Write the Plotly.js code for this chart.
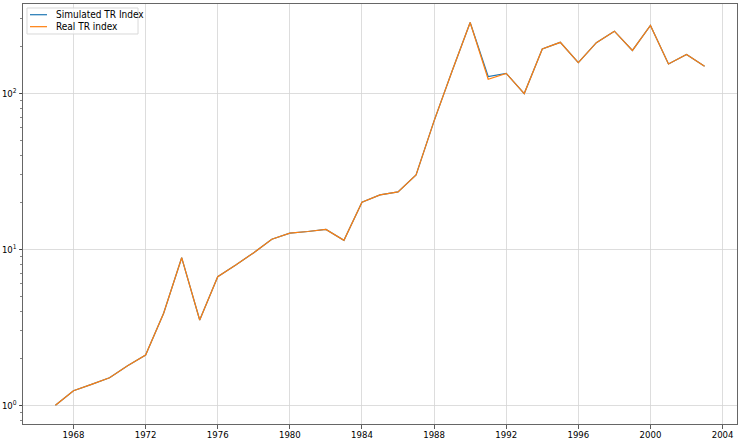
<!DOCTYPE html>
<html>
<head>
<meta charset="utf-8">
<script src="https://cdn.plot.ly/plotly-3.0.1.min.js"></script>
<style>
html,body{margin:0;padding:0;background:#fff;}
#chart{width:740px;height:440px;}
</style>
</head>
<body>
<div id="chart"></div>
<script>
const years = [1967,1968,1969,1970,1971,1972,1973,1974,1975,1976,1977,1978,1979,1980,1981,1982,1983,1984,1985,1986,1987,1988,1989,1990,1991,1992,1993,1994,1995,1996,1997,1998,1999,2000,2001,2002,2003];
const simulatedIdx = [1.0,1.24,1.36,1.50,1.79,2.10,3.89,8.83,3.52,6.67,7.93,9.51,11.6,12.7,13.0,13.4,11.4,20.0,22.3,23.3,30.0,66.5,139,284,128,134,99.5,192,212,157,211,250,188,272,154,177,149];
const realIdx = [1.0,1.24,1.36,1.50,1.79,2.10,3.89,8.83,3.52,6.67,7.93,9.51,11.6,12.7,13.0,13.4,11.4,20.0,22.3,23.3,30.0,66.5,139,284,123,134,99.5,192,212,157,211,250,188,272,154,177,149];
const seriesNames = ["Simulated TR Index","Real TR index"];
const seriesColors = ["#1f77b4","#ff7f0e"];
const xTicks = [1968,1972,1976,1980,1984,1988,1992,1996,2000,2004];
const yTicks = [1,10,100];
const yTickText = ["10<sup>0</sup>","10<sup>1</sup>","10<sup>2</sup>"];

const fam = "DejaVu Sans Condensed, DejaVu Sans, sans-serif";
const font = {family: fam, size: 9.5, color: "#000"};
const traces = [
  {x: years, y: simulatedIdx, name: seriesNames[0], type: "scatter", mode: "lines",
   line: {color: seriesColors[0], width: 1.2}},
  {x: years, y: realIdx, name: seriesNames[1], type: "scatter", mode: "lines",
   line: {color: seriesColors[1], width: 1.2}}
];

// custom compact legend (paper coordinates of the plot area)
const legRowY = [0.9745, 0.9460];
const shapes = [
  {type: "rect", xref: "paper", yref: "paper", x0: 0.0056, x1: 0.1611, y0: 0.9286, y1: 0.9905,
   line: {color: "#d9d9d9", width: 1}, fillcolor: "rgba(255,255,255,0.8)", layer: "above"}
];
const annotations = [];
seriesNames.forEach((nm, i) => {
  shapes.push({type: "line", xref: "paper", yref: "paper", x0: 0.0098, x1: 0.0336,
    y0: legRowY[i], y1: legRowY[i], line: {color: seriesColors[i], width: 1.2}, layer: "above"});
  annotations.push({xref: "paper", yref: "paper", x: 0.043, y: legRowY[i], xanchor: "left", yanchor: "middle",
    text: nm, showarrow: false, font: {family: fam, size: 10, color: "#000"}});
});

const layout = {
  width: 740, height: 440,
  margin: {l: 23, r: 3, t: 4, b: 16, pad: 0},
  paper_bgcolor: "#fff", plot_bgcolor: "#fff",
  font: font,
  showlegend: false,
  shapes: shapes,
  annotations: annotations,
  xaxis: {range: [1965.2, 2004.8], tickmode: "array", tickvals: xTicks,
    ticks: "outside", ticklen: 3.5, tickcolor: "#333", tickwidth: 0.8,
    ticklabelstandoff: -2,
    showgrid: true, gridcolor: "#d4d4d4", gridwidth: 0.8,
    showline: true, linecolor: "#666", linewidth: 1, mirror: true,
    zeroline: false, tickfont: font, automargin: false},
  yaxis: {type: "log", range: [-0.12, 2.572], tickmode: "array", tickvals: yTicks, ticktext: yTickText,
    ticks: "outside", ticklen: 3.5, tickcolor: "#333", tickwidth: 0.8,
    minor: {ticks: "outside", ticklen: 2, tickcolor: "#333", tickwidth: 0.6, dtick: "D1", showgrid: false},
    showgrid: true, gridcolor: "#d4d4d4", gridwidth: 0.8,
    showline: true, linecolor: "#666", linewidth: 1, mirror: true,
    zeroline: false, tickfont: font, automargin: false}
};
Plotly.newPlot("chart", traces, layout, {staticPlot: true, displayModeBar: false});
</script>
</body>
</html>
